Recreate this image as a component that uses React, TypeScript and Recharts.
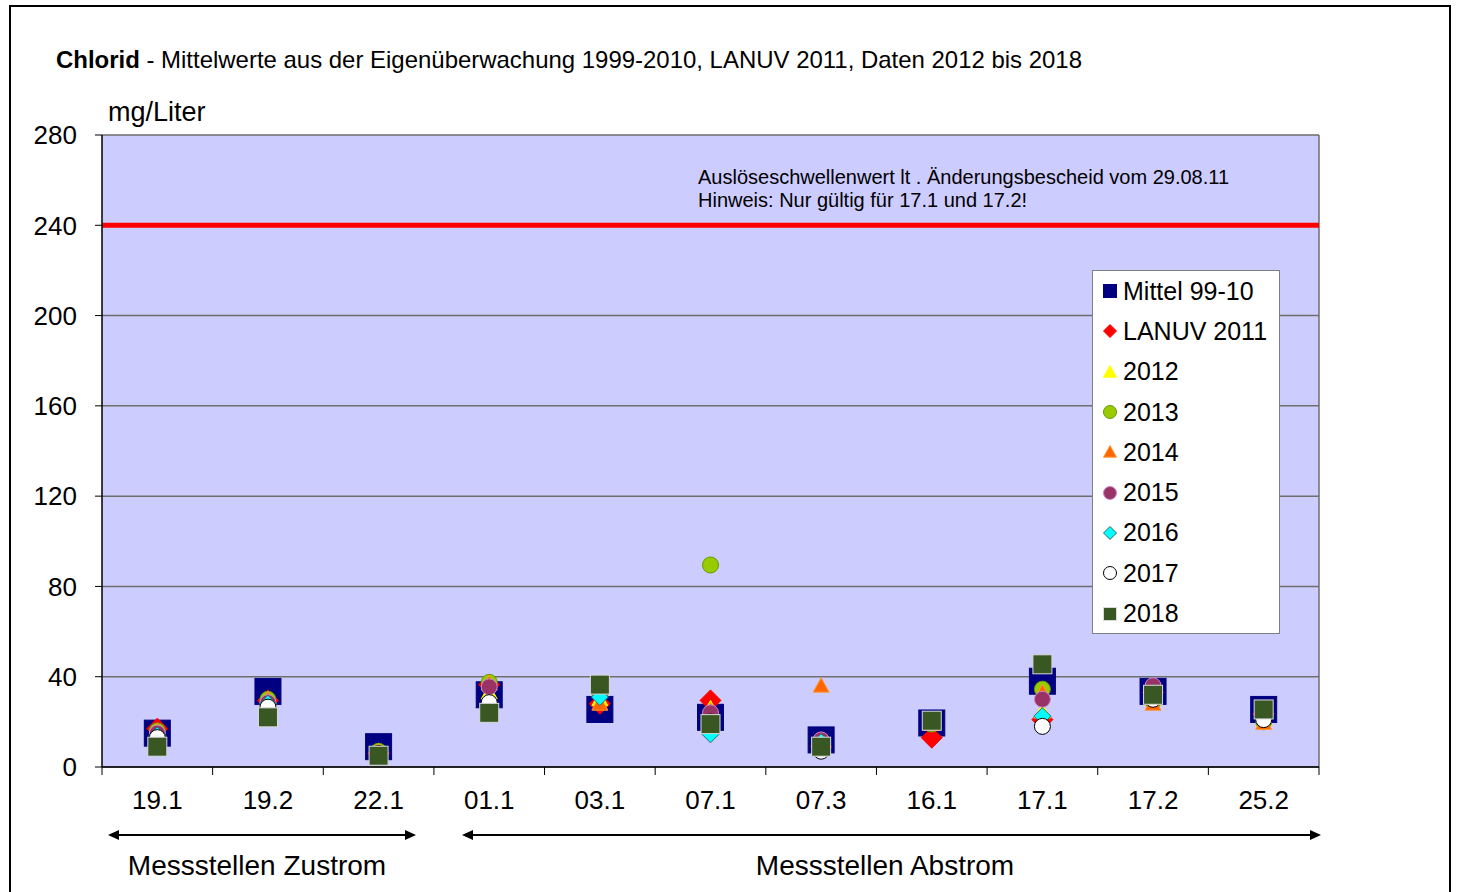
import React from "react";
import {
	CartesianGrid,
	ReferenceLine,
	Scatter,
	ScatterChart,
	XAxis,
	YAxis,
} from "recharts";

// Messstellen (x categories)
const categories = ["19.1", "19.2", "22.1", "01.1", "03.1", "07.1", "07.3", "16.1", "17.1", "17.2", "25.2"];

// Chlorid in mg/Liter
const mittel9910 = [15, 33.5, 9, 32, 25.5, 22, 12, 19.5, 38, 33.5, 25.5];
const lanuv2011 = [17, 29.5, 6, 36.5, 28, 29.5, 9, 13, 21, 33, 23.5];
const werte2012 = [15, 29, 7, 33, 30, 26, 10, 20, 24.5, 30, 21];
const werte2013 = [16, 30, 7, 37.5, 33, 89.5, 10, 19, 34.5, 29, 20];
const werte2014 = [16, 30, 7, 37, 28, 25, 36, 19, 33, 28, 19.5];
const werte2015 = [15, 28.5, 6, 35.5, 35, 24, 12, 20, 30, 36, 25];
const werte2016 = [14, 28, 6, 27, 31, 14.5, 11, 20, 22.5, 33, 25];
const werte2017 = [13, 26.5, 6, 28.5, 37, 20, 7, 20, 18, 30, 21];
const werte2018 = [9, 22, 5, 24, 36.5, 19, 9, 20.5, 45.5, 32, 25.5];

const yTicks = [0, 40, 80, 120, 160, 200, 240, 280];
const schwellenwert = 240;

type Kind = "square" | "diamond" | "triangle" | "circle";

interface SeriesDef {
	name: string;
	values: number[];
	kind: Kind;
	size: number;
	fill: string;
	stroke: string;
}

const series: SeriesDef[] = [
	{ name: "Mittel 99-10", values: mittel9910, kind: "square", size: 26, fill: "#000080", stroke: "#000080" },
	{ name: "LANUV 2011", values: lanuv2011, kind: "diamond", size: 21, fill: "#ff0000", stroke: "#ff0000" },
	{ name: "2012", values: werte2012, kind: "triangle", size: 16, fill: "#ffff00", stroke: "#ffff00" },
	{ name: "2013", values: werte2013, kind: "circle", size: 16, fill: "#99cc00", stroke: "#669900" },
	{ name: "2014", values: werte2014, kind: "triangle", size: 16, fill: "#ff6600", stroke: "#ff9933" },
	{ name: "2015", values: werte2015, kind: "circle", size: 16, fill: "#993366", stroke: "#cc88cc" },
	{ name: "2016", values: werte2016, kind: "diamond", size: 17, fill: "#00ffff", stroke: "#336666" },
	{ name: "2017", values: werte2017, kind: "circle", size: 16, fill: "#ffffff", stroke: "#000000" },
	{ name: "2018", values: werte2018, kind: "square", size: 19, fill: "#385723", stroke: "#d9d9d9" },
];

const W = 1458;
const H = 892;
const M = { top: 135, right: 139, bottom: 85, left: 42 };
const Y_AXIS_W = 60;
const PLOT_W = W - M.left - Y_AXIS_W - M.right;
const HALF_BAND = PLOT_W / categories.length / 2;
const FONT = "'Liberation Sans', Arial, sans-serif";

function Marker({ kind, size, fill, stroke, cx, cy }: { kind: Kind; size: number; fill: string; stroke: string; cx: number; cy: number }) {
	const h = size / 2;
	if (kind === "square")
		return <rect x={cx - h} y={cy - h} width={size} height={size} fill={fill} stroke={stroke} strokeWidth={1} />;
	if (kind === "diamond")
		return <polygon points={`${cx},${cy - h} ${cx + h},${cy} ${cx},${cy + h} ${cx - h},${cy}`} fill={fill} stroke={stroke} strokeWidth={1} />;
	if (kind === "triangle")
		return <polygon points={`${cx},${cy - h} ${cx + h},${cy + h * 0.8} ${cx - h},${cy + h * 0.8}`} fill={fill} stroke={stroke} strokeWidth={1} />;
	return <circle cx={cx} cy={cy} r={h} fill={fill} stroke={stroke} strokeWidth={1} />;
}

function XTick(props: any) {
	const { x, y, payload } = props;
	const i = payload.value as number;
	const axisY = y - 8;
	return (
		<g>
			<line x1={x - HALF_BAND} y1={axisY} x2={x - HALF_BAND} y2={axisY + 8} stroke="#000" />
			{i === categories.length - 1 && (
				<line x1={x + HALF_BAND} y1={axisY} x2={x + HALF_BAND} y2={axisY + 8} stroke="#000" />
			)}
			<text x={x} y={y + 34} textAnchor="middle" fontSize={26} fill="#000" fontFamily={FONT}>
				{categories[i]}
			</text>
		</g>
	);
}

function Arrow({ x1, x2, y }: { x1: number; x2: number; y: number }) {
	return (
		<g>
			<line x1={x1 + 6} y1={y} x2={x2 - 6} y2={y} stroke="#000" strokeWidth={2} />
			<polygon points={`${x1},${y} ${x1 + 11},${y - 5} ${x1 + 11},${y + 5}`} fill="#000" />
			<polygon points={`${x2},${y} ${x2 - 11},${y - 5} ${x2 - 11},${y + 5}`} fill="#000" />
		</g>
	);
}

export default function App() {
	return (
		<div style={{ position: "absolute", left: 0, top: 0, width: W, height: H, background: "#fff", fontFamily: FONT, overflow: "hidden" }}>
			<ScatterChart width={W} height={H} margin={M}>
				<CartesianGrid vertical={false} stroke="#6e6e6e" strokeWidth={1.5} fill="#ccccff" />
				<XAxis
					type="number"
					dataKey="x"
					domain={[-0.5, categories.length - 0.5]}
					ticks={categories.map((_, i) => i)}
					interval={0}
					height={40}
					tickSize={8}
					tickMargin={0}
					tickLine={false}
					tick={XTick}
					axisLine={{ stroke: "#000", strokeWidth: 1.5 }}
				/>
				<YAxis
					type="number"
					dataKey="y"
					domain={[0, 280]}
					ticks={yTicks}
					width={Y_AXIS_W}
					tickSize={7}
					tickMargin={18}
					tick={{ fontSize: 26, fill: "#000", fontFamily: FONT }}
					tickLine={{ stroke: "#000" }}
					axisLine={{ stroke: "#000", strokeWidth: 1.5 }}
				/>
				<ReferenceLine x={categories.length - 0.5} stroke="#6e6e6e" strokeWidth={1.5} />
				<ReferenceLine y={schwellenwert} stroke="#ff0000" strokeWidth={5} />
				{series.map((s) => (
					<Scatter
						key={s.name}
						name={s.name}
						data={s.values.map((v, i) => ({ x: i, y: v }))}
						fill={s.fill}
						isAnimationActive={false}
						shape={(p: any) => <Marker kind={s.kind} size={s.size} fill={s.fill} stroke={s.stroke} cx={p.cx} cy={p.cy} />}
					/>
				))}
			</ScatterChart>

			<svg width={W} height={H} style={{ position: "absolute", left: 0, top: 0, pointerEvents: "none" }}>
				<rect x={10} y={6} width={1440} height={900} fill="none" stroke="#000" strokeWidth={2} />
				<text x={56} y={68} fontSize={24} fill="#000" fontFamily={FONT} textLength={1026} lengthAdjust="spacingAndGlyphs">
					<tspan fontWeight="bold">Chlorid</tspan>
					<tspan> - Mittelwerte aus der Eigenüberwachung 1999-2010, LANUV 2011, Daten 2012 bis 2018</tspan>
				</text>
				<text x={108} y={121} fontSize={27} fill="#000" fontFamily={FONT}>mg/Liter</text>
				<text x={698} y={184} fontSize={20} fill="#000" fontFamily={FONT}>Auslöseschwellenwert lt . Änderungsbescheid vom 29.08.11</text>
				<text x={698} y={207} fontSize={20} fill="#000" fontFamily={FONT}>Hinweis: Nur gültig für 17.1 und 17.2!</text>
				<Arrow x1={108} x2={416} y={835} />
				<Arrow x1={462} x2={1321} y={835} />
				<text x={257} y={875} fontSize={28} textAnchor="middle" fill="#000" fontFamily={FONT}>Messstellen Zustrom</text>
				<text x={885} y={875} fontSize={28} textAnchor="middle" fill="#000" fontFamily={FONT}>Messstellen Abstrom</text>
			</svg>

			<div
				style={{
					position: "absolute",
					left: 1092,
					top: 270,
					width: 186,
					height: 362,
					background: "#fff",
					border: "1px solid #7f7f7f",
				}}
			>
				{series.map((s) => (
					<div key={s.name} style={{ height: 40.3, display: "flex", alignItems: "center", paddingLeft: 9 }}>
						<svg width={16} height={16} style={{ marginRight: 5 }}>
							<Marker kind={s.kind} size={13} fill={s.fill} stroke={s.stroke} cx={8} cy={8} />
						</svg>
						<span style={{ fontSize: 25, color: "#000", whiteSpace: "nowrap" }}>{s.name}</span>
					</div>
				))}
			</div>
		</div>
	);
}
